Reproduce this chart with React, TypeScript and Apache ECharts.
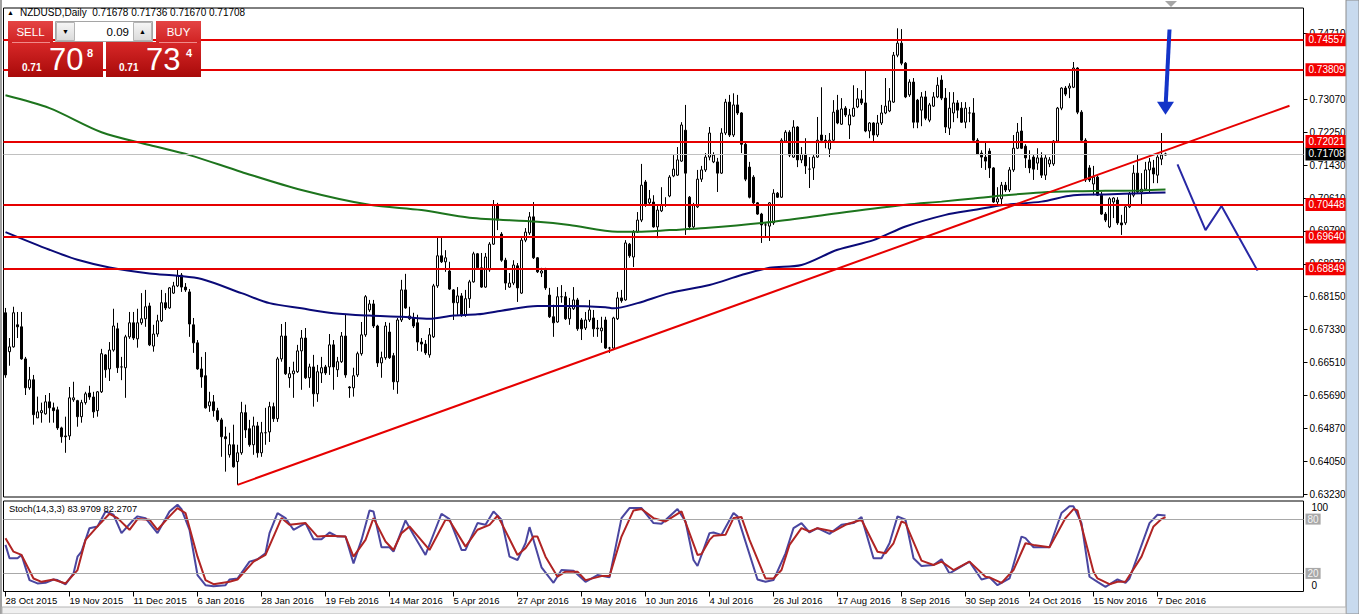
import React, { useEffect, useRef } from "react";
import * as echarts from "echarts";

// ---- data (prices in pips: value / 10000) ----
const dateLabels = [
  "28 Oct 2015", "19 Nov 2015", "11 Dec 2015", "6 Jan 2016", "28 Jan 2016", "19 Feb 2016",
  "14 Mar 2016", "5 Apr 2016", "27 Apr 2016", "19 May 2016", "10 Jun 2016", "4 Jul 2016",
  "26 Jul 2016", "17 Aug 2016", "8 Sep 2016", "30 Sep 2016", "24 Oct 2016", "15 Nov 2016", "7 Dec 2016",
];

const opens = [
  6775,6678,6690,6745,6740,6660,6588,6608,6513,6526,
  6523,6553,6538,6533,6488,6468,6468,6558,6556,6516,
  6551,6575,6565,6531,6578,6670,6635,6682,6735,6640,
  6638,6715,6750,6710,6750,6760,6792,6692,6722,6755,
  6800,6787,6824,6842,6869,6839,6827,6745,6700,6635,
  6618,6543,6553,6531,6508,6466,6421,6446,6404,6426,
  6526,6486,6446,6493,6426,6476,6478,6541,6511,6660,
  6717,6613,6623,6628,6680,6712,6613,6640,6573,6625,
  6640,6640,6695,6633,6653,6717,6590,6588,6620,6673,
  6720,6782,6797,6742,6650,6663,6727,6668,6603,6757,
  6832,6760,6762,6750,6702,6697,6670,6715,6842,6917,
  6902,6879,6832,6800,6817,6770,6810,6852,6922,6887,
  6839,6882,6946,7044,6971,6906,6839,6849,6892,6824,
  6956,6974,7014,6912,6874,6882,6819,6765,6752,6815,
  6815,6760,6785,6807,6757,6737,6757,6762,6735,6730,
  6757,6687,6687,6760,6812,6807,6946,6914,6976,7006,
  7101,7049,7051,6989,7029,7044,7066,7116,7118,7153,
  7230,7063,6989,7039,7108,7131,7163,7151,7151,7123,
  7223,7300,7218,7293,7273,7195,7138,7113,7049,7021,
  6994,6991,6999,7073,7063,7203,7225,7163,7238,7156,
  7170,7133,7136,7163,7218,7205,7183,7205,7280,7245,
  7285,7243,7265,7288,7308,7298,7228,7248,7218,7248,
  7273,7278,7300,7417,7447,7397,7318,7350,7305,7280,
  7313,7255,7290,7313,7355,7310,7235,7273,7298,7285,
  7250,7273,7273,7205,7173,7163,7178,7136,7051,7059,
  7093,7081,7131,7185,7228,7190,7156,7163,7148,7161,
  7118,7146,7146,7203,7285,7335,7335,7337,7385,7275,
  7205,7136,7096,7113,7068,7021,6989,7051,7056,6999,
  6999,7039,7068,7123,7076,7083,7131,7136,7118,7158,
  7168,
];

const closes = [
  6620,6690,6775,6740,6660,6588,6608,6521,6528,6531,
  6553,6538,6531,6488,6466,6466,6563,6563,6516,6551,
  6573,6565,6528,6578,6673,6633,6682,6742,6638,6640,
  6715,6750,6712,6750,6760,6790,6695,6722,6755,6800,
  6787,6837,6842,6867,6839,6832,6747,6700,6635,6615,
  6538,6553,6531,6508,6466,6461,6446,6391,6426,6526,
  6483,6446,6493,6426,6476,6476,6541,6511,6660,6717,
  6623,6623,6630,6680,6712,6613,6640,6573,6628,6638,
  6625,6695,6640,6653,6717,6620,6588,6618,6673,6720,
  6815,6797,6742,6650,6663,6742,6663,6603,6757,6832,
  6787,6767,6742,6702,6697,6675,6720,6842,6917,6902,
  6912,6834,6800,6817,6770,6810,6852,6922,6887,6839,
  6914,6946,7044,7006,6906,6849,6849,6894,6837,6956,
  6976,7014,6912,6877,6879,6837,6765,6750,6815,6815,
  6760,6787,6807,6735,6735,6757,6782,6735,6737,6737,
  6687,6687,6762,6812,6805,6949,6917,6976,7006,7093,
  7044,7059,6989,7031,7044,7044,7113,7133,7156,7243,
  7123,6989,7044,7108,7131,7163,7223,7168,7123,7223,
  7300,7218,7293,7273,7195,7108,7063,7049,7021,6994,
  6994,7049,7073,7063,7205,7225,7168,7238,7156,7170,
  7141,7133,7163,7205,7205,7200,7205,7275,7248,7283,
  7268,7268,7285,7308,7298,7228,7248,7218,7248,7273,
  7290,7303,7417,7447,7397,7313,7350,7250,7250,7313,
  7260,7293,7313,7342,7310,7238,7285,7298,7280,7250,
  7285,7273,7205,7170,7163,7153,7136,7051,7059,7093,
  7081,7131,7185,7225,7185,7161,7136,7133,7161,7118,
  7161,7156,7203,7285,7335,7320,7340,7385,7275,7205,
  7106,7106,7113,7068,7021,7006,7059,7061,6999,6994,
  7039,7071,7123,7076,7083,7131,7151,7121,7163,7168,
  7171,
];

const highs = [
  6787,6712,6790,6777,6777,6665,6640,6620,6566,6551,
  6570,6575,6551,6541,6491,6516,6590,6603,6558,6558,
  6578,6593,6578,6580,6685,6672,6702,6785,6750,6665,
  6720,6777,6777,6785,6824,6832,6800,6745,6770,6832,
  6824,6839,6852,6882,6874,6849,6834,6762,6707,6665,
  6677,6578,6570,6538,6513,6491,6476,6496,6446,6553,
  6546,6508,6516,6503,6503,6538,6553,6551,6665,6747,
  6752,6640,6653,6695,6732,6737,6648,6670,6645,6665,
  6645,6722,6707,6665,6727,6770,6592,6638,6678,6752,
  6819,6807,6807,6745,6678,6752,6750,6675,6762,6857,
  6872,6790,6775,6770,6712,6707,6737,6847,6964,6964,
  6931,6902,6834,6839,6824,6832,6857,6927,6924,6924,
  6924,6951,7056,7049,6976,6912,6874,6906,6899,6964,
  6986,7026,7051,6914,6887,6887,6837,6795,6839,6844,
  6827,6812,6839,6812,6762,6777,6807,6782,6757,6765,
  6765,6690,6765,6827,6832,6956,6949,6981,7026,7146,
  7106,7081,7068,7044,7088,7063,7118,7168,7188,7250,
  7293,7066,7049,7131,7141,7173,7238,7175,7161,7235,
  7308,7318,7322,7318,7275,7200,7151,7118,7051,7024,
  7001,7051,7083,7076,7210,7230,7230,7255,7240,7188,
  7210,7163,7168,7263,7337,7218,7223,7305,7318,7310,
  7290,7283,7342,7335,7330,7380,7250,7250,7268,7293,
  7360,7335,7425,7484,7482,7400,7357,7360,7308,7325,
  7328,7298,7325,7362,7367,7335,7325,7325,7305,7300,
  7300,7288,7310,7210,7180,7200,7185,7138,7088,7101,
  7101,7138,7218,7248,7263,7195,7180,7168,7185,7175,
  7168,7163,7205,7288,7337,7340,7347,7400,7387,7280,
  7210,7143,7141,7118,7076,7026,7063,7063,7063,7019,
  7044,7076,7143,7168,7123,7151,7161,7156,7168,7223,
  7174,
];

const lows = [
  6613,6643,6688,6712,6658,6570,6583,6496,6513,6501,
  6521,6501,6501,6483,6451,6426,6458,6553,6491,6501,
  6546,6558,6513,6516,6575,6613,6605,6678,6625,6607,
  6563,6710,6707,6688,6745,6740,6692,6678,6715,6752,
  6782,6785,6822,6839,6827,6827,6715,6675,6633,6588,
  6536,6528,6516,6503,6416,6379,6414,6389,6346,6421,
  6463,6441,6421,6414,6416,6446,6453,6503,6503,6653,
  6620,6588,6563,6625,6583,6610,6588,6541,6553,6600,
  6620,6620,6583,6615,6650,6613,6563,6566,6615,6668,
  6715,6777,6737,6640,6613,6658,6660,6583,6573,6752,
  6785,6757,6737,6680,6678,6670,6663,6712,6837,6899,
  6877,6832,6757,6770,6765,6765,6787,6850,6882,6837,
  6837,6877,6944,6981,6902,6832,6837,6844,6802,6822,
  6951,6969,6909,6874,6864,6832,6762,6715,6750,6800,
  6757,6745,6782,6730,6707,6732,6752,6715,6715,6700,
  6685,6675,6682,6757,6800,6805,6912,6889,6974,7001,
  7039,7044,6987,6961,7026,7039,7063,7113,7116,7151,
  6969,6981,6986,7036,7101,7126,7155,7148,7076,7121,
  7218,7213,7213,7268,7173,7103,7060,7046,7019,6949,
  6964,6954,6994,7061,7061,7200,7163,7161,7138,7148,
  7121,7086,7106,7161,7198,7185,7163,7203,7245,7243,
  7263,7208,7263,7285,7293,7225,7210,7200,7213,7243,
  7270,7275,7298,7412,7392,7310,7313,7235,7235,7240,
  7255,7250,7288,7310,7305,7223,7218,7250,7260,7248,
  7235,7250,7203,7168,7136,7131,7111,7049,7044,7044,
  7076,7076,7126,7183,7183,7136,7123,7106,7131,7111,
  7106,7138,7141,7200,7280,7315,7310,7335,7270,7200,
  7101,7101,7068,7066,7019,7001,6986,7011,6994,6969,
  6994,7036,7063,7073,7044,7081,7076,7098,7098,7143,
  7167,
];

// moving averages read at [bar index, pips]
const maSlow = [
  [0,7317],[11,7285],[24,7225],[36,7193],[46,7168],[59,7126],[74,7081],[91,7044],[104,7031],
  [116,7012],[133,7002],[141,6994],[153,6977],[158,6977],[166,6981],[175,6986],[192,7002],
  [208,7023],[225,7044],[234,7052],[242,7060],[250,7068],[259,7075],[267,7078],[275,7079],
  [284,7080],[290,7082],
];
const maFast = [
  [0,6976],[11,6932],[18,6907],[26,6888],[36,6873],[43,6867],[49,6859],[59,6824],[66,6799],
  [74,6786],[82,6774],[91,6768],[99,6765],[106,6760],[112,6768],[118,6771],[124,6780],[133,6792],
  [141,6792],[150,6789],[152,6786],[158,6799],[166,6824],[176,6844],[184,6869],[191,6887],
  [199,6894],[208,6932],[217,6956],[225,6990],[235,7019],[242,7031],[250,7044],[259,7052],
  [267,7068],[275,7070],[284,7073],[290,7075],
];

// stochastic (14,3,3) read at [bar index, value]
const stochK = [
  [0,51.5],[1,36.7],[3,36.7],[4,40.4],[6,12.6],[8,8.9],[10,9.6],[12,13.3],[13,12.6],[15,7.8],
  [17,20],[18,38.5],[19,44],[21,70],[23,71.9],[25,88.5],[27,84.8],[29,64.5],[32,79.3],[33,83],
  [35,81.1],[38,64.5],[41,88.5],[43,95.9],[44,91.1],[46,68.2],[48,18.2],[50,7],[52,5.9],[55,7],
  [56,13.3],[58,14.4],[61,33],[63,35.6],[65,42.2],[66,64.5],[68,86.7],[70,81.1],[72,68.2],[75,75.6],
  [77,57.8],[79,57.8],[81,65.2],[83,60.7],[85,60.7],[87,31.1],[89,57],[91,89.6],[92,88.5],[94,48.9],
  [96,48.9],[97,44],[100,78.5],[102,62.6],[105,40.4],[109,85.9],[111,80],[114,45.9],[115,45.9],
  [118,75.6],[120,73.7],[122,88.5],[124,79.3],[126,38.5],[128,34.8],[130,53.3],[131,71.1],[132,57],
  [134,26.7],[137,9.6],[139,23.7],[142,23],[145,10.7],[148,18.2],[151,15.6],[154,81.1],[156,92.2],
  [159,92.2],[162,75.6],[164,74.8],[168,91.1],[170,77.4],[172,34.8],[173,28.2],[176,64.5],[177,65.2],
  [179,62.6],[182,86.7],[183,83],[188,13.3],[190,10.7],[192,12.6],[195,42.2],[197,70],[199,75.6],
  [201,65.2],[203,70],[206,63.7],[209,73.7],[212,75.6],[214,82.2],[217,36.7],[219,36.7],[221,53.3],
  [223,83],[225,79.3],[227,36.7],[229,28.2],[232,29.3],[234,35.6],[236,20],[241,33],[244,13.3],
  [246,15.6],[248,7],[251,14.4],[254,60.7],[255,58.9],[257,48.9],[261,48.9],[264,86.7],[266,94.1],
  [267,94.1],[269,75.6],[271,16.3],[273,10.7],[275,5.2],[278,13.3],[280,9.6],[281,14.4],[286,75.6],
  [288,84.8],[290,84],
];
const stochD = [
  [0,58.9],[2,44],[4,40.4],[7,14.4],[9,10.7],[12,13.3],[15,8.9],[18,23.7],[20,57],[23,71.9],
  [26,85.9],[28,81.1],[31,68.2],[33,80],[36,79.3],[38,68.2],[41,83],[43,92.2],[45,86.7],[48,38.5],
  [50,12.6],[52,8.1],[56,10.7],[58,13.3],[62,33],[65,40.4],[67,60.7],[69,81.1],[71,73.7],[75,75.6],
  [78,60.7],[81,61.5],[85,60.7],[87,38.5],[90,57],[92,81.1],[95,55.2],[97,45.9],[99,64.5],[101,71.9],
  [106,45.9],[110,79.3],[111,78.5],[115,49.6],[118,68.2],[121,73.7],[123,83.7],[124,75.6],[128,40.4],
  [130,47.8],[132,60.7],[133,60.7],[135,38.5],[138,16.3],[140,21.9],[143,21.9],[145,12.6],[149,17],
  [151,17],[154,60.7],[157,89.6],[159,91.1],[162,81.1],[165,77.4],[169,88.5],[171,64.5],[173,40.4],
  [174,41.5],[176,57],[177,61.5],[180,62.6],[182,81.1],[184,82.2],[186,57],[190,14.4],[192,14.4],
  [194,23.7],[196,51.5],[199,70],[201,66.3],[203,70],[207,66.3],[210,73.7],[214,79.3],[218,44],
  [220,42.2],[222,53.3],[224,77.4],[225,75.6],[229,34.1],[232,29.3],[234,33],[237,23.7],[241,33],
  [245,16.3],[246,15.6],[249,9.6],[252,23.7],[255,53.3],[257,51.5],[261,48.9],[265,81.1],[267,91.1],
  [268,89.6],[272,21.9],[273,14.4],[276,8.1],[278,10.7],[280,10.7],[284,38.5],[287,71.9],[289,80],
  [290,82.3],
];

const levels = [0.74557, 0.73809, 0.72021, 0.70448, 0.6964, 0.68849];
const lastPrice = 0.71708;
const priceTicks = [0.6323, 0.6405, 0.6487, 0.6569, 0.6651, 0.6733, 0.6815, 0.6897, 0.6979,
  0.7061, 0.7143, 0.7225, 0.7307, 0.7471];
const stochLevels = [80, 20];
const trendLine = [[58, 0.6346], [321, 0.7291]];
const projection = [[293, 0.7145], [300, 0.6981], [304, 0.7041], [313, 0.688]];
const arrow = [[291, 0.7481], [290, 0.7285]];
const header = "NZDUSD,Daily  0.71678 0.71736 0.71670 0.71708";
const stochTitle = "Stoch(14,3,3) 83.9709 82.2707";
const BAR_SLOTS = 325;

const FONT = "'Liberation Sans', Arial, sans-serif";

export default function App() {
  const ref = useRef<HTMLDivElement>(null);
  useEffect(() => {
    const chart = echarts.init(ref.current!, null, { renderer: "svg" });
    const cats = Array.from({ length: BAR_SLOTS }, (_, i) => String(i));
    const candles = opens.map((o, i) => [o / 1e4, closes[i] / 1e4, lows[i] / 1e4, highs[i] / 1e4]);
    const showDate = (i: number) => i % 16 === 0 && i / 16 < dateLabels.length;
    const grad = (a: string, b: string) =>
      new echarts.graphic.LinearGradient(0, 0, 0, 1, [{ offset: 0, color: a }, { offset: 1, color: b }]);
    const txt = (x: number, y: number, text: string, size: number, fill: string, extra: any = {}) => ({
      type: "text", x, y, z: 101,
      style: { text, fontSize: size, fill, fontFamily: FONT, verticalAlign: "middle", align: "left", ...extra },
    });
    const levelLabel = (bg: string, fg: string) => ({
      show: true, position: "end", distance: 2,
      formatter: (p: any) => Number(p.value).toFixed(5),
      color: fg, backgroundColor: bg, padding: [2, 3, 1, 3], fontSize: 10, fontFamily: FONT,
    });

    const option: any = {
      animation: false,
      textStyle: { fontFamily: FONT },
      grid: [
        { left: 3.5, top: 8, width: 1300, height: 489, show: true, borderColor: "#000", borderWidth: 1, backgroundColor: "#fff" },
        { left: 3.5, top: 501, width: 1300, height: 90.5, show: true, borderColor: "#000", borderWidth: 1, backgroundColor: "#fff" },
      ],
      xAxis: [
        {
          type: "category", gridIndex: 0, data: cats, boundaryGap: true,
          axisLine: { show: false }, axisTick: { show: false }, axisLabel: { show: false }, splitLine: { show: false },
        },
        {
          type: "category", gridIndex: 1, data: cats, boundaryGap: true,
          axisLine: { show: false },
          axisTick: { show: true, alignWithLabel: true, interval: (i: number) => showDate(i), length: 5, lineStyle: { color: "#000" } },
          axisLabel: {
            interval: (i: number) => showDate(i),
            formatter: (_v: string, i: number) => dateLabels[i / 16] ?? "",
            align: "left", fontSize: 9.5, color: "#000", margin: 4, fontFamily: FONT,
          },
          splitLine: { show: false },
        },
      ],
      yAxis: [
        {
          type: "value", gridIndex: 0, position: "right", min: 0.63158, max: 0.75346,
          splitLine: { show: false }, axisLine: { show: false },
          axisTick: { show: true, customValues: priceTicks, length: 4, lineStyle: { color: "#000" } },
          axisLabel: { customValues: priceTicks, formatter: (v: number) => v.toFixed(5), fontSize: 10, color: "#000", margin: 6, fontFamily: FONT },
        },
        {
          type: "value", gridIndex: 1, position: "right", min: 0, max: 100,
          splitLine: { show: false }, axisLine: { show: false }, axisTick: { show: false },
          axisLabel: {
            customValues: [0, 100], fontSize: 10, color: "#000", margin: 8, fontFamily: FONT,
            formatter: (v: number) => (v >= 100 ? "{a|100}" : "{b|0}"),
            rich: { a: { padding: [12, 0, 0, 0], fontSize: 10 }, b: { padding: [0, 0, 12, 0], fontSize: 10 } },
          },
        },
      ],
      series: [
        {
          type: "candlestick", xAxisIndex: 0, yAxisIndex: 0, data: candles, barWidth: 2, z: 2,
          itemStyle: { color: "#fff", color0: "#000", borderColor: "#000", borderColor0: "#000", borderWidth: 1 },
          markLine: {
            silent: true, symbol: ["none", "none"], precision: 5, z: 5,
            data: [
              { yAxis: lastPrice, lineStyle: { color: "#c0c0c0", width: 1, type: "solid" }, label: levelLabel("#000", "#fff") },
              ...levels.map((v) => ({
                yAxis: v, lineStyle: { color: "#e60000", width: 2, type: "solid" }, label: levelLabel("#f20000", "#fff"),
              })),
            ],
          },
        },
        {
          type: "line", xAxisIndex: 0, yAxisIndex: 0, data: maSlow.map(([i, p]) => [i, p / 1e4]),
          smooth: 0.3, showSymbol: false, lineStyle: { color: "#1d741d", width: 2 }, z: 3, silent: true,
        },
        {
          type: "line", xAxisIndex: 0, yAxisIndex: 0, data: maFast.map(([i, p]) => [i, p / 1e4]),
          smooth: 0.3, showSymbol: false, lineStyle: { color: "#0a0a78", width: 2 }, z: 3, silent: true,
        },
        {
          type: "line", xAxisIndex: 0, yAxisIndex: 0, data: trendLine,
          showSymbol: false, lineStyle: { color: "#e60000", width: 2 }, z: 4, silent: true,
        },
        {
          type: "line", xAxisIndex: 0, yAxisIndex: 0, data: projection,
          showSymbol: false, lineStyle: { color: "#2828a4", width: 2 }, z: 4, silent: true,
        },
        {
          type: "line", xAxisIndex: 0, yAxisIndex: 0, silent: true, z: 6,
          data: [
            { value: arrow[0], symbol: "none" },
            { value: arrow[1], symbol: "triangle", symbolSize: [17, 13], symbolRotate: 180, itemStyle: { color: "#1434c8" } },
          ],
          showSymbol: true, showAllSymbol: true, lineStyle: { color: "#1434c8", width: 4 }, itemStyle: { color: "#1434c8" },
        },
        {
          type: "line", xAxisIndex: 1, yAxisIndex: 1, data: stochK, showSymbol: false, silent: true, z: 3,
          lineStyle: { color: "#4a46a0", width: 2 },
          markLine: {
            silent: true, symbol: ["none", "none"], precision: 0,
            data: stochLevels.map((v) => ({
              yAxis: v, lineStyle: { color: "#a8a8a8", width: 1, type: "solid" },
              label: { show: true, position: "end", distance: 2, formatter: String(v), color: "#f4f4f4", backgroundColor: "#a8a8a8", padding: [1, 2, 0, 2], fontSize: 10, fontFamily: FONT },
            })),
          },
        },
        {
          type: "line", xAxisIndex: 1, yAxisIndex: 1, data: stochD, showSymbol: false, silent: true, z: 4,
          lineStyle: { color: "#b02424", width: 2 },
        },
      ],
      graphic: [
        // window chrome
        { type: "rect", z: 100, shape: { x: 0, y: 0, width: 2, height: 614 }, style: { fill: "#a0a0a0" } },
        { type: "rect", z: 100, shape: { x: 1346, y: 0, width: 13, height: 614 }, style: { fill: "#c8daee", stroke: "#8c8c8c", lineWidth: 1 } },
        { type: "rect", z: 100, shape: { x: 2, y: 607, width: 1344, height: 7 }, style: { fill: "#f0f0f0", stroke: "#b4b4b4", lineWidth: 1 } },
        { type: "polygon", z: 100, shape: { points: [[1165, 1], [1177, 1], [1171, 7]] }, style: { fill: "#a6a6a6" } },
        // header + indicator title
        txt(7, 12, "▲", 7, "#000"),
        txt(20, 12, header, 10, "#000"),
        txt(9, 509, stochTitle, 9.3, "#000"),
        // trade panel
        { type: "rect", z: 100, shape: { x: 8, y: 42, width: 95, height: 35 }, style: { fill: grad("#d82828", "#a80a0a") } },
        { type: "rect", z: 100, shape: { x: 106, y: 42, width: 95, height: 35 }, style: { fill: grad("#d82828", "#a80a0a") } },
        { type: "rect", z: 100, shape: { x: 8, y: 21, width: 45, height: 22 }, style: { fill: grad("#e44444", "#d02222") } },
        { type: "rect", z: 100, shape: { x: 156, y: 21, width: 45, height: 22 }, style: { fill: grad("#e44444", "#d02222") } },
        { type: "line", z: 101, shape: { x1: 12, y1: 42.5, x2: 50, y2: 42.5 }, style: { stroke: "#f08a8a", lineWidth: 1 } },
        { type: "line", z: 101, shape: { x1: 159, y1: 42.5, x2: 197, y2: 42.5 }, style: { stroke: "#f08a8a", lineWidth: 1 } },
        { type: "rect", z: 100, shape: { x: 55.5, y: 21.5, width: 97, height: 20 }, style: { fill: "#fff", stroke: "#a5a5a5", lineWidth: 1 } },
        { type: "rect", z: 101, shape: { x: 56.5, y: 22.5, width: 18, height: 18 }, style: { fill: grad("#f6f6f6", "#dadada"), stroke: "#b4b4b4", lineWidth: 1 } },
        { type: "rect", z: 101, shape: { x: 133.5, y: 22.5, width: 18, height: 18 }, style: { fill: grad("#f6f6f6", "#dadada"), stroke: "#b4b4b4", lineWidth: 1 } },
        txt(65.5, 31.5, "▼", 7, "#000", { align: "center" }),
        txt(142.5, 31.5, "▲", 7, "#000", { align: "center" }),
        txt(129, 31.5, "0.09", 11.5, "#000", { align: "right" }),
        txt(30.5, 32, "SELL", 11.5, "#fff", { align: "center" }),
        txt(178.5, 32, "BUY", 11.5, "#fff", { align: "center" }),
        txt(22, 67, "0.71", 10, "#fff", { fontWeight: "bold" }),
        txt(49, 59.5, "70", 31, "#fff"),
        txt(87, 52.5, "8", 11, "#fff", { fontWeight: "bold" }),
        txt(119, 67, "0.71", 10, "#fff", { fontWeight: "bold" }),
        txt(146, 59.5, "73", 31, "#fff"),
        txt(186, 52.5, "4", 11, "#fff", { fontWeight: "bold" }),
      ],
    };
    chart.setOption(option);
    return () => chart.dispose();
  }, []);
  return (
    <div
      ref={ref}
      style={{ position: "fixed", left: 0, top: 0, width: 1359, height: 614, background: "#fff" }}
    />
  );
}
